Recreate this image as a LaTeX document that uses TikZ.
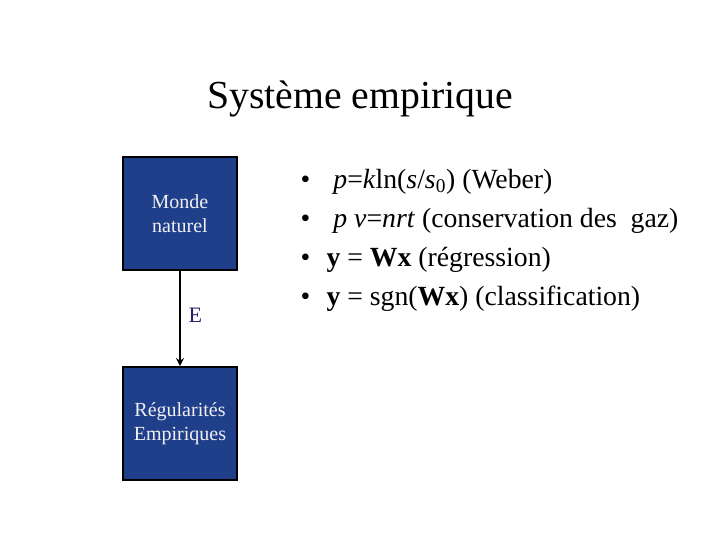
\documentclass[tikz,border=0pt]{standalone}
\usepackage{fontspec}
\setmainfont{Liberation Serif}
\usetikzlibrary{arrows.meta}
\definecolor{boxblue}{RGB}{31,63,139}
\definecolor{labelnavy}{RGB}{38,30,110}

\tikzset{every picture/.style={line width=0.75pt}}
\tikzset{
  blockbox/.style={draw=black, line width=1.5pt, fill=boxblue, text=white!94!black, align=center,
    minimum width=85.5pt, minimum height=84.75pt, inner sep=0pt, font=\fontsize{15}{18}\selectfont},
  bulletmark/.style={anchor=base west, inner sep=0pt, font=\fontsize{20.8}{25}\selectfont},
  bullettext/.style={anchor=base west, inner sep=0pt, font=\fontsize{20.8}{25}\selectfont}
}

\begin{document}
\begin{tikzpicture}[x=0.75pt,y=0.75pt,yscale=-1,xscale=1]
%set diagram left start at 0, and has height of 540
\path[use as bounding box, fill=white] (0,0) rectangle (720,540);

% Text Node
\draw (360,108) node [anchor=base][inner sep=0pt] (title) {\fontsize{29.8}{36}\selectfont Système empirique};

%Shape: Rectangle
\draw (180,213.5) node [blockbox] (monde) {Monde\\naturel};
%Shape: Rectangle
\draw (180,423.5) node [blockbox] (regul) {Régularités\\Empiriques};

%Straight Lines
\draw [-{Stealth[length=6pt,width=6pt]}, line width=1.5pt] (monde) -- (regul);
% Text Node
\draw (188,322) node [anchor=base west][inner sep=0pt] (elabel) {\color{labelnavy}\fontsize{16.5}{20}\selectfont E};

% Text Node
\draw (300,188) node [bulletmark] (b1) {•};
\draw (300,227) node [bulletmark] (b2) {•};
\draw (300,266) node [bulletmark] (b3) {•};
\draw (300,305) node [bulletmark] (b4) {•};
% Text Node
\draw (326,188) node [bullettext] (t1) {\ \textit{p}=\textit{k}ln(\textit{s}/\textit{s}\textsubscript{0}) (Weber)};
\draw (326,227) node [bullettext] (t2) {\ \textit{p v}=\textit{nrt} (conservation des\ \ gaz)};
\draw (326,266) node [bullettext] (t3) {\textbf{y} = \textbf{Wx} (régression)};
\draw (326,305) node [bullettext] (t4) {\textbf{y} = sgn(\textbf{Wx}) (classification)};

\end{tikzpicture}
\end{document}
